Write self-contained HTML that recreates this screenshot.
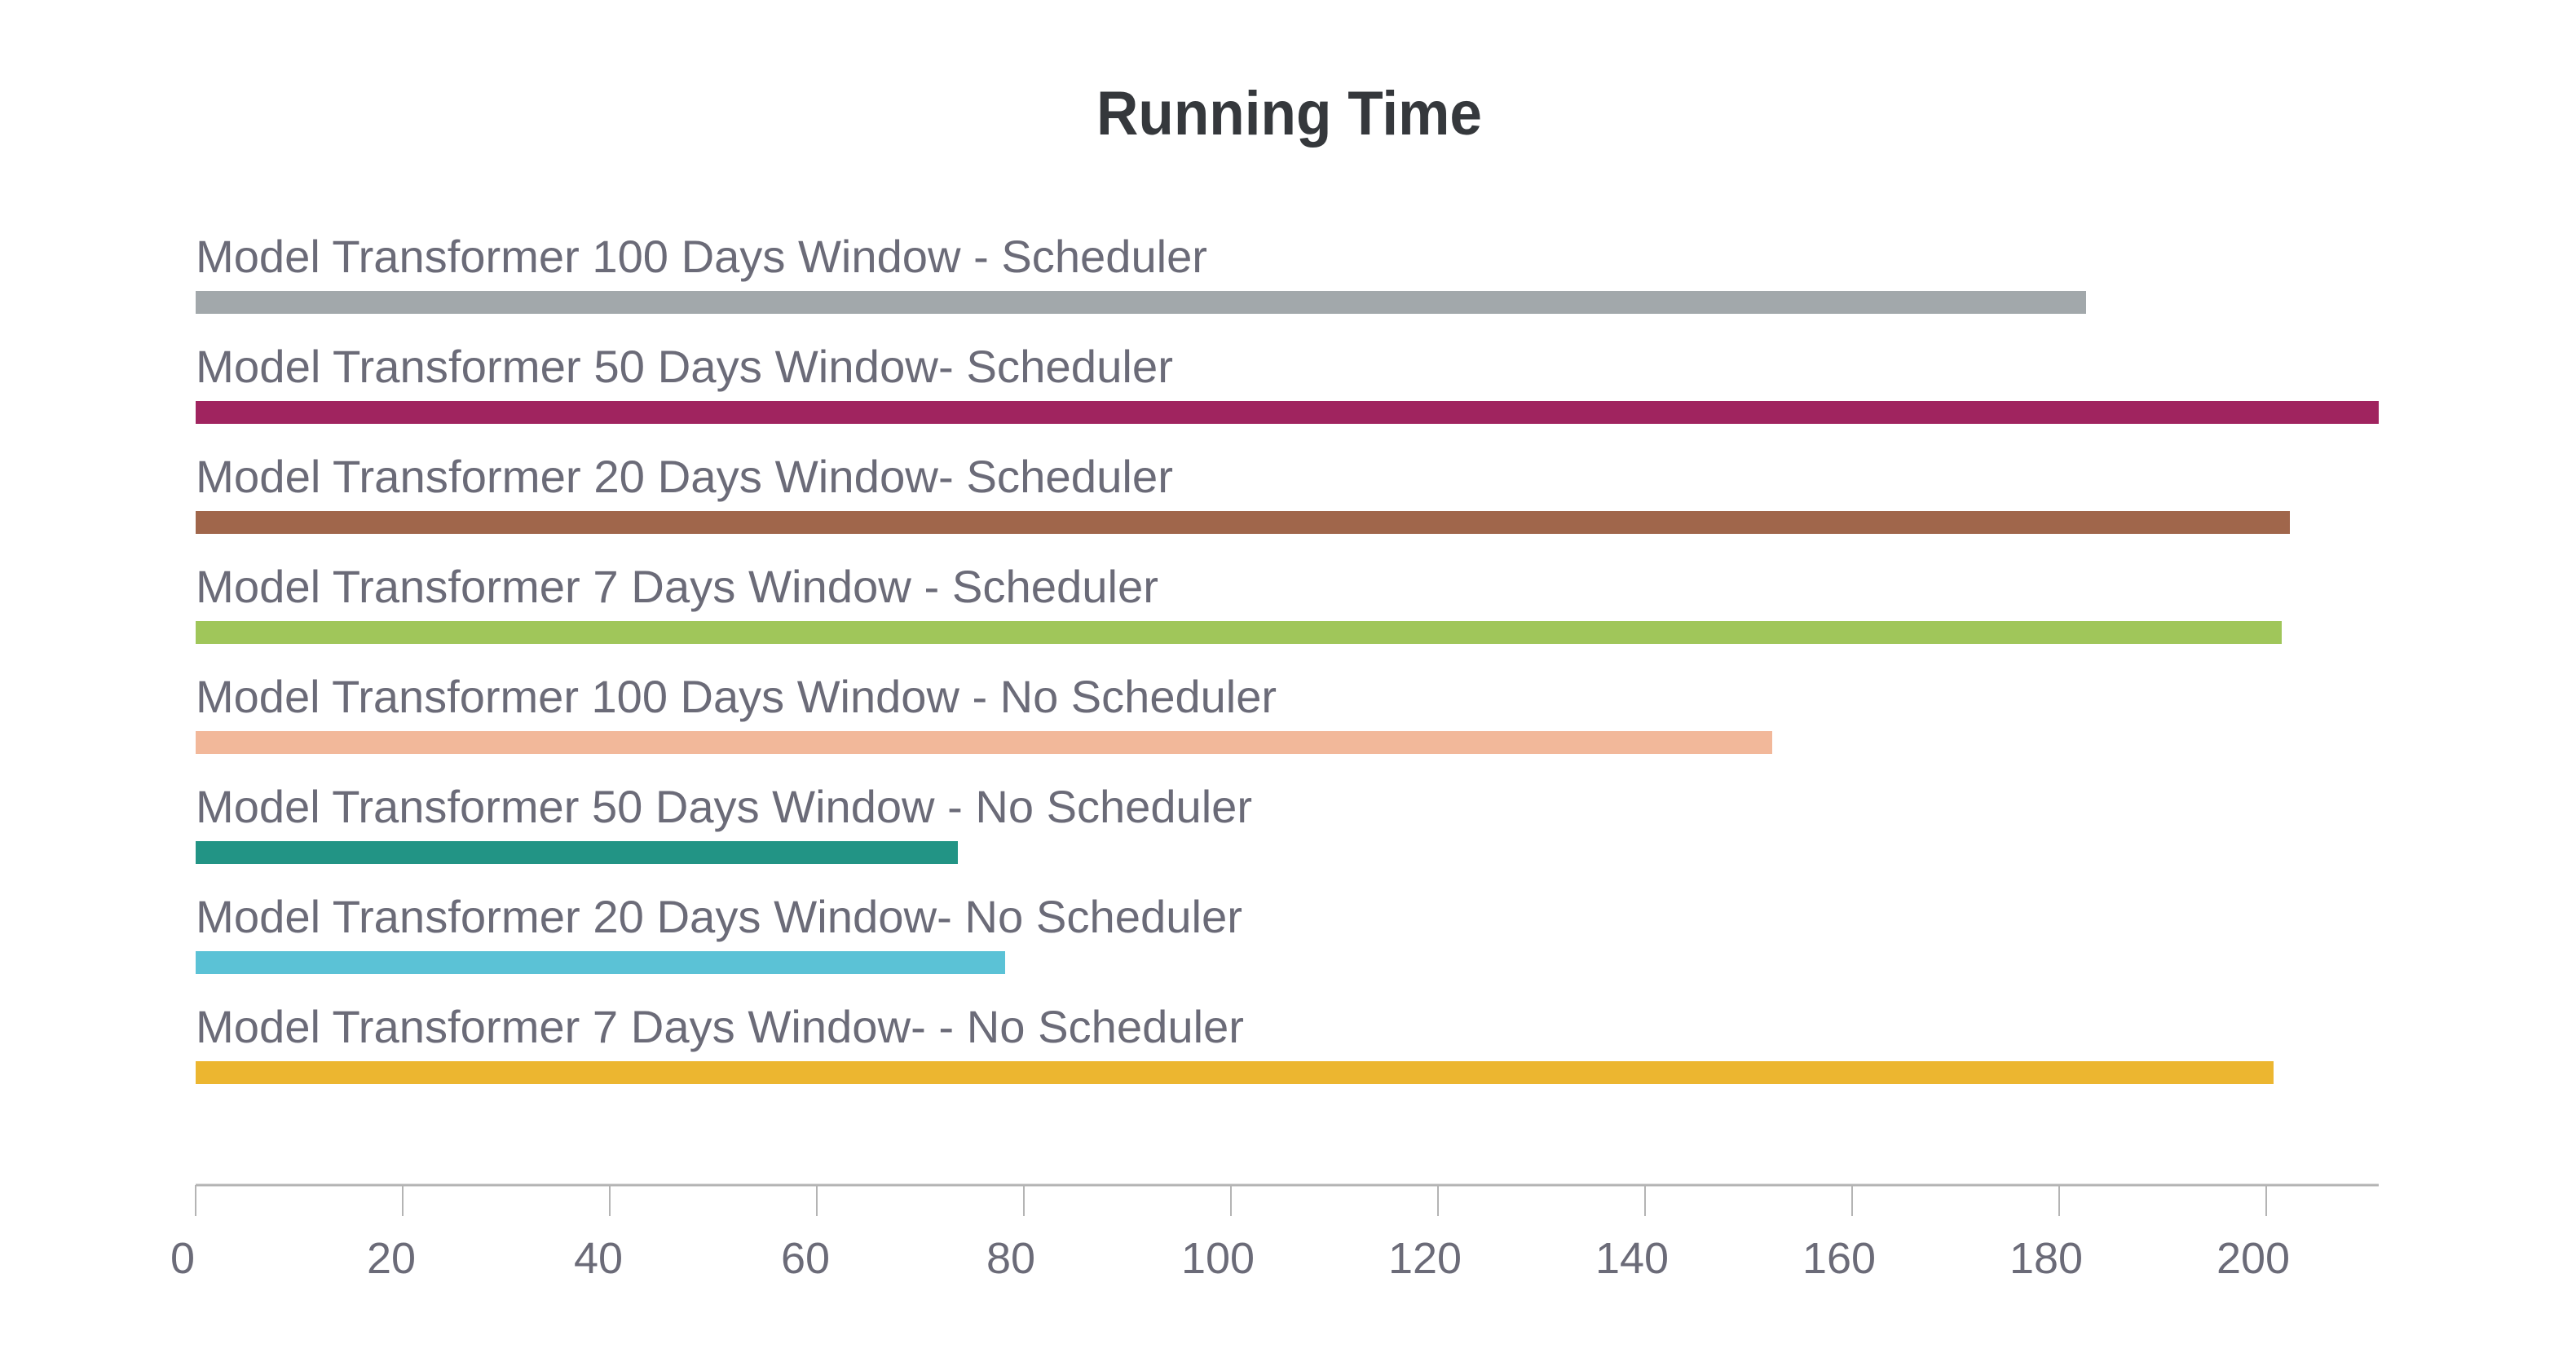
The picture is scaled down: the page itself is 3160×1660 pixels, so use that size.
<!DOCTYPE html>
<html><head><meta charset="utf-8"><style>
html,body{margin:0;padding:0;background:#fff;width:3160px;height:1660px;overflow:hidden}
text{font-family:"Liberation Sans",sans-serif}
</style></head><body>
<svg width="3160" height="1660" viewBox="0 0 3160 1660" xmlns="http://www.w3.org/2000/svg">
<text x="1345" y="165" font-size="76" font-weight="bold" fill="#35383c" textLength="473" lengthAdjust="spacingAndGlyphs">Running Time</text>
<g font-size="56" fill="#6b6b78">
<text x="240" y="334" textLength="1241" lengthAdjust="spacingAndGlyphs">Model Transformer 100 Days Window - Scheduler</text>
<text x="240" y="469" textLength="1199" lengthAdjust="spacingAndGlyphs">Model Transformer 50 Days Window- Scheduler</text>
<text x="240" y="604" textLength="1199" lengthAdjust="spacingAndGlyphs">Model Transformer 20 Days Window- Scheduler</text>
<text x="240" y="739" textLength="1181" lengthAdjust="spacingAndGlyphs">Model Transformer 7 Days Window - Scheduler</text>
<text x="240" y="874" textLength="1326" lengthAdjust="spacingAndGlyphs">Model Transformer 100 Days Window - No Scheduler</text>
<text x="240" y="1009" textLength="1296" lengthAdjust="spacingAndGlyphs">Model Transformer 50 Days Window - No Scheduler</text>
<text x="240" y="1144" textLength="1284" lengthAdjust="spacingAndGlyphs">Model Transformer 20 Days Window- No Scheduler</text>
<text x="240" y="1279" textLength="1286" lengthAdjust="spacingAndGlyphs">Model Transformer 7 Days Window- - No Scheduler</text>
</g>
<rect x="240" y="357" width="2319" height="28" fill="#a2a8ab"/>
<rect x="240" y="492" width="2678" height="28" fill="#a0245f"/>
<rect x="240" y="627" width="2569" height="28" fill="#a0664b"/>
<rect x="240" y="762" width="2559" height="28" fill="#a0c65a"/>
<rect x="240" y="897" width="1934" height="28" fill="#f2b89a"/>
<rect x="240" y="1032" width="935" height="28" fill="#229485"/>
<rect x="240" y="1167" width="993" height="28" fill="#5bc2d6"/>
<rect x="240" y="1302" width="2549" height="28" fill="#ecb630"/>
<line x1="240" y1="1454" x2="2918" y2="1454" stroke="#b4b4b4" stroke-width="3"/>
<g stroke="#b4b4b4" stroke-width="2">
<line x1="240" y1="1454" x2="240" y2="1492"/><line x1="494" y1="1454" x2="494" y2="1492"/>
<line x1="748" y1="1454" x2="748" y2="1492"/><line x1="1002" y1="1454" x2="1002" y2="1492"/>
<line x1="1256" y1="1454" x2="1256" y2="1492"/><line x1="1510" y1="1454" x2="1510" y2="1492"/>
<line x1="1764" y1="1454" x2="1764" y2="1492"/><line x1="2018" y1="1454" x2="2018" y2="1492"/>
<line x1="2272" y1="1454" x2="2272" y2="1492"/><line x1="2526" y1="1454" x2="2526" y2="1492"/>
<line x1="2780" y1="1454" x2="2780" y2="1492"/>
</g>
<g font-size="54" fill="#6b6b78" text-anchor="middle">
<text x="224" y="1562">0</text><text x="480" y="1562">20</text><text x="734" y="1562">40</text>
<text x="988" y="1562">60</text><text x="1240" y="1562">80</text><text x="1494" y="1562">100</text>
<text x="1748" y="1562">120</text><text x="2002" y="1562">140</text><text x="2256" y="1562">160</text>
<text x="2510" y="1562">180</text><text x="2764" y="1562">200</text>
</g>
</svg>
</body></html>
